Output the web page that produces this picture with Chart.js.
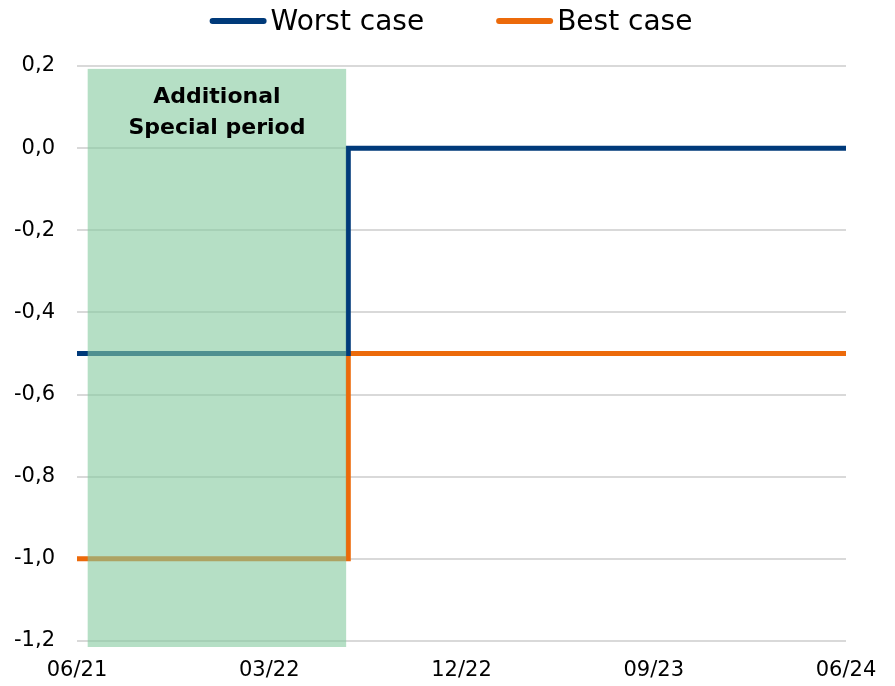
<!DOCTYPE html>
<html>
<head>
<meta charset="utf-8">
<script src="https://cdn.jsdelivr.net/npm/chart.js@4/dist/chart.umd.min.js"></script>
<style>
  html, body { margin: 0; padding: 0; background: #ffffff; }
  #wrap { width: 895px; height: 686px; }
</style>
</head>
<body>
<div id="wrap"><canvas id="chart" width="895" height="686"></canvas></div>
<script>
// months since June 2021
const stepMonths = [0, 12.7, 36];
const worstValues = [-0.5, 0.0, 0.0];
const bestValues = [-1.0, -0.5, -0.5];
const xTickLabels = ['06/21', '03/22', '12/22', '09/23', '06/24'];
const specialPeriod = [0.5, 12.6];
const specialLabel = ['Additional', 'Special period'];

const FONT = '"DejaVu Sans", sans-serif';

// shaded box for the special period, drawn over the lines
const periodBox = {
    id: 'periodBox',
    afterDatasetsDraw(chart) {
        const ctx = chart.ctx;
        const xs = chart.scales.x, ys = chart.scales.y;
        const x0 = xs.getPixelForValue(specialPeriod[0]);
        const x1 = xs.getPixelForValue(specialPeriod[1]);
        const y0 = ys.getPixelForValue(0.193);
        const y1 = ys.getPixelForValue(-1.2146);
        ctx.save();
        ctx.fillStyle = 'rgba(132,202,158,0.6)';
        ctx.fillRect(x0, y0, x1 - x0, y1 - y0);
        ctx.fillStyle = '#000000';
        ctx.font = 'bold 22px ' + FONT;
        ctx.textAlign = 'center';
        ctx.textBaseline = 'middle';
        const cx = (x0 + x1) / 2;
        ctx.fillText(specialLabel[0], cx, y0 + 28);
        ctx.fillText(specialLabel[1], cx, y0 + 59);
        ctx.restore();
    }
};

// legend with short line samples like the original (box close to text)
const lineLegend = {
    id: 'lineLegend',
    afterDraw(chart) {
        const ctx = chart.ctx;
        const sets = chart.data.datasets;
        const lineW = 57, gap = 4, itemGap = 72, y = 21;
        ctx.save();
        ctx.font = '28px ' + FONT;
        ctx.textBaseline = 'middle';
        const widths = sets.map(ds => lineW + gap + ctx.measureText(ds.label).width);
        const total = widths.reduce((a, b) => a + b, 0) + itemGap * (sets.length - 1);
        let x = 451 - total / 2;
        sets.forEach((ds, i) => {
            ctx.strokeStyle = ds.borderColor;
            ctx.lineWidth = 6;
            ctx.lineCap = 'round';
            ctx.beginPath();
            ctx.moveTo(x + 3, y);
            ctx.lineTo(x + lineW - 3, y);
            ctx.stroke();
            ctx.fillStyle = '#000000';
            ctx.fillText(ds.label, x + lineW + gap, y + 2);
            x += widths[i] + itemGap;
        });
        ctx.restore();
    }
};

const ctx = document.getElementById('chart').getContext('2d');

new Chart(ctx, {
    type: 'line',
    data: {
        datasets: [
            {
                label: 'Worst case',
                data: stepMonths.map((m, i) => ({ x: m, y: worstValues[i] })),
                borderColor: '#003a7a',
                backgroundColor: '#003a7a',
                borderWidth: 5,
                pointRadius: 0,
                stepped: true,
                fill: false
            },
            {
                label: 'Best case',
                data: stepMonths.map((m, i) => ({ x: m, y: bestValues[i] })),
                borderColor: '#ec6a0a',
                backgroundColor: '#ec6a0a',
                borderWidth: 5,
                pointRadius: 0,
                stepped: true,
                fill: false
            }
        ]
    },
    options: {
        responsive: false,
        animation: false,
        layout: {
            padding: { left: 0, right: 49, top: 66, bottom: 4 }
        },
        scales: {
            x: {
                type: 'linear',
                min: 0,
                max: 36,
                afterFit: (scale) => { scale.height = 41; },
                grid: { display: false, drawTicks: false },
                border: { display: false },
                ticks: {
                    stepSize: 9,
                    color: '#000000',
                    padding: 17,
                    maxRotation: 0,
                    font: { family: FONT, size: 21 },
                    callback: (v) => xTickLabels[Math.round(v / 9)]
                }
            },
            y: {
                min: -1.2,
                max: 0.2,
                afterFit: (scale) => { scale.width = 77; },
                grid: { color: '#d9d9d9', lineWidth: 2, drawTicks: false },
                border: { display: false },
                ticks: {
                    stepSize: 0.2,
                    color: '#000000',
                    padding: 22,
                    font: { family: FONT, size: 21 },
                    callback: (v) => v.toFixed(1).replace('.', ',').replace('-0,0', '0,0')
                }
            }
        },
        plugins: {
            legend: { display: false },
            tooltip: { enabled: false }
        }
    },
    plugins: [periodBox, lineLegend]
});
</script>
</body>
</html>
